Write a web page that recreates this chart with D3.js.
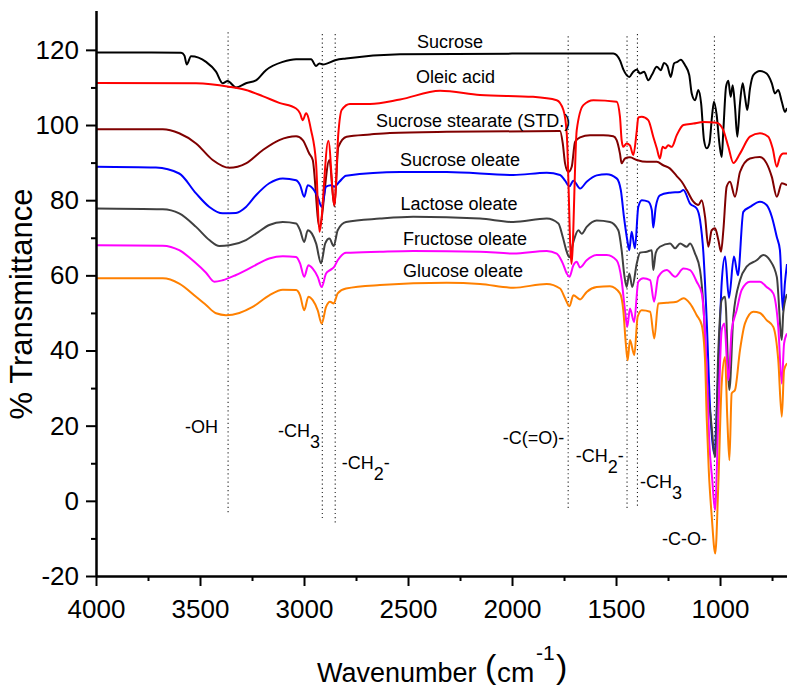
<!DOCTYPE html>
<html>
<head>
<meta charset="utf-8">
<script src="https://cdn.jsdelivr.net/npm/d3@7"></script>
<style>
  body { margin: 0; background: #fff; }
  svg { display: block; font-family: Arial, "Liberation Sans", sans-serif; }
</style>
</head>
<body>
<svg id="chart" width="787" height="688"></svg>
<script>
// spectra: [wavenumber cm-1, % transmittance]
const sucrose = [[4000,119.3],[3800,119.3],[3591,119.2],[3575,118.5],[3564,116.1],[3543,118.3],[3471,116.8],[3423,114.2],[3391,111.1],[3367,111.7],[3327,110.0],[3279,111.1],[3231,111.9],[3183,114.6],[3102,116.8],[3038,117.5],[2966,117.5],[2942,115.7],[2926,116.4],[2910,116.1],[2846,117.3],[2798,117.7],[2538,118.8],[2000,119.0],[1513,119.0],[1481,117.2],[1465,114.8],[1436,112.8],[1417,114.2],[1400,114.8],[1385,113.7],[1365,114.2],[1345,111.9],[1328,113.3],[1304,115.5],[1285,114.6],[1269,116.5],[1253,115.7],[1237,112.8],[1221,116.4],[1205,116.8],[1189,117.4],[1168,115.9],[1148,113.3],[1136,108.4],[1120,106.6],[1104,109.3],[1091,105.8],[1077,96.0],[1064,93.8],[1051,95.1],[1038,102.6],[1029,106.2],[1016,102.6],[1003,95.1],[992,91.5],[984,98.6],[971,110.2],[960,111.8],[949,107.5],[939,110.6],[928,104.8],[917,96.9],[904,105.8],[891,111.1],[880,107.5],[869,104.0],[856,109.7],[840,113.3],[808,114.4],[776,113.7],[751,111.1],[736,108.4],[720,109.3],[703,106.2],[688,103.5],[678,104.5]];

const oleicAcid = [[4000,111.2],[3519,111.1],[3361,110.2],[3279,109.3],[3199,107.7],[3119,105.9],[3038,104.4],[3019,103.1],[3006,101.3],[2990,103.1],[2966,98.6],[2942,89.8],[2926,71.6],[2883,95.8],[2854,78.7],[2835,97.7],[2819,104.0],[2779,105.6],[2683,105.6],[2538,106.8],[2346,109.1],[2154,108.0],[1899,107.5],[1785,106.6],[1753,104.0],[1737,97.8],[1714,63.0],[1689,98.6],[1657,105.3],[1609,106.6],[1497,106.2],[1481,102.2],[1473,96.0],[1465,94.2],[1449,95.1],[1433,94.6],[1417,92.0],[1400,98.6],[1393,102.0],[1376,102.2],[1345,101.3],[1321,96.9],[1304,93.8],[1289,91.1],[1276,94.2],[1264,93.8],[1249,94.6],[1232,94.2],[1208,97.3],[1176,100.0],[1128,100.4],[1080,100.8],[1016,100.6],[984,98.6],[960,94.2],[936,89.9],[904,92.4],[856,96.9],[808,97.8],[768,96.9],[747,93.8],[727,88.9],[712,91.5],[696,92.4],[678,92.4]];

const sucroseStearate = [[4000,98.9],[3679,98.9],[3600,97.8],[3519,95.1],[3439,90.7],[3359,88.6],[3279,89.8],[3199,93.3],[3119,96.0],[3038,97.0],[3006,96.0],[2975,92.4],[2958,90.7],[2926,72.9],[2878,90.7],[2854,78.4],[2835,94.2],[2795,96.9],[2683,97.5],[2587,97.9],[2314,98.2],[1769,98.4],[1756,95.1],[1745,89.8],[1729,87.5],[1713,88.9],[1697,95.5],[1673,96.7],[1625,97.3],[1561,97.3],[1513,97.0],[1497,96.0],[1481,92.4],[1473,89.8],[1457,91.1],[1433,91.4],[1400,90.7],[1352,90.2],[1304,90.2],[1273,89.3],[1240,88.4],[1208,86.4],[1184,84.9],[1160,82.7],[1128,79.6],[1104,78.7],[1088,80.0],[1072,75.6],[1056,67.6],[1040,72.0],[1024,72.5],[1008,69.4],[995,66.3],[984,72.0],[968,83.6],[952,84.9],[928,80.9],[904,87.5],[856,91.1],[808,91.5],[776,89.8],[751,86.2],[727,80.9],[703,84.5],[678,84.0]];

const sucroseOleate = [[4000,88.9],[3712,88.7],[3600,87.1],[3519,81.8],[3455,78.2],[3391,76.5],[3327,76.6],[3279,78.2],[3231,81.3],[3167,84.5],[3102,85.8],[3038,85.3],[3019,84.0],[2999,80.9],[2982,84.0],[2966,83.6],[2934,80.9],[2915,78.2],[2894,83.6],[2870,84.0],[2854,83.6],[2830,84.9],[2798,86.5],[2538,87.5],[2314,87.5],[1994,86.7],[1833,87.3],[1769,86.7],[1745,85.2],[1724,83.7],[1705,85.2],[1673,83.1],[1641,84.9],[1593,86.6],[1545,86.9],[1497,85.8],[1477,82.7],[1462,75.6],[1446,69.4],[1436,66.7],[1425,71.6],[1409,67.2],[1393,78.2],[1376,80.0],[1345,79.6],[1328,77.4],[1321,72.7],[1309,78.2],[1289,81.3],[1240,82.0],[1192,82.2],[1176,82.7],[1144,79.1],[1112,77.8],[1096,74.7],[1080,66.0],[1064,48.0],[1048,25.0],[1029,12.6],[1008,35.0],[992,58.0],[976,65.0],[957,54.0],[933,65.0],[914,60.0],[888,76.9],[856,78.2],[808,79.6],[776,78.7],[751,75.6],[727,70.2],[712,66.7],[698,50.7],[688,58.0],[678,63.0]];

const lactoseOleate = [[4000,77.8],[3679,77.6],[3600,76.5],[3519,72.9],[3455,69.4],[3407,67.8],[3359,68.0],[3279,69.4],[3231,71.1],[3167,73.4],[3102,74.2],[3038,73.8],[3019,72.0],[2999,68.9],[2982,72.0],[2962,71.1],[2942,68.5],[2918,63.2],[2898,68.5],[2878,69.8],[2857,67.8],[2838,72.0],[2798,74.2],[2635,75.1],[2475,75.6],[2154,75.1],[1994,74.2],[1833,75.1],[1777,73.8],[1756,70.2],[1737,66.3],[1724,64.8],[1705,68.9],[1681,72.0],[1665,71.1],[1641,72.9],[1593,74.6],[1529,74.2],[1489,72.0],[1473,66.7],[1460,60.0],[1449,56.9],[1436,60.5],[1422,56.9],[1400,63.2],[1385,66.0],[1352,66.3],[1328,66.7],[1321,61.4],[1309,66.0],[1289,67.6],[1240,68.5],[1216,67.2],[1192,68.5],[1160,67.6],[1144,68.5],[1120,65.8],[1096,61.4],[1080,52.0],[1060,30.0],[1045,22.4],[1023,11.7],[1008,40.1],[992,53.4],[976,54.3],[955,29.5],[936,49.0],[904,58.7],[872,62.3],[824,64.0],[792,65.4],[760,64.0],[727,59.6],[703,42.8],[696,50.0],[678,55.0]];

const fructoseOleate = [[4000,68.0],[3679,67.9],[3600,66.7],[3519,63.2],[3471,60.7],[3431,58.3],[3391,58.7],[3327,60.1],[3247,62.3],[3167,64.5],[3102,65.1],[3038,64.9],[3019,63.2],[2999,59.6],[2979,62.7],[2958,61.8],[2934,59.6],[2915,56.9],[2894,60.5],[2875,61.4],[2857,62.1],[2838,64.0],[2798,66.0],[2635,66.3],[2475,66.5],[2154,66.3],[1994,65.8],[1833,66.5],[1785,65.8],[1756,63.2],[1737,60.5],[1724,59.6],[1705,62.7],[1689,63.6],[1673,62.1],[1641,64.0],[1593,65.4],[1545,65.4],[1497,64.0],[1473,58.7],[1457,50.7],[1446,46.3],[1433,51.2],[1413,47.6],[1393,58.3],[1369,59.2],[1336,58.7],[1317,53.0],[1297,59.6],[1256,61.4],[1216,59.6],[1176,61.8],[1144,61.4],[1112,58.3],[1088,55.2],[1072,44.5],[1064,35.0],[1051,15.0],[1038,6.0],[1024,-2.5],[1008,22.4],[992,45.4],[979,47.2],[960,32.1],[944,45.4],[920,50.7],[896,56.1],[856,58.3],[808,58.3],[776,56.9],[744,55.2],[720,46.3],[703,31.2],[692,41.9],[678,44.5]];

const glucoseOleate = [[4000,59.2],[3679,59.2],[3600,57.8],[3519,54.3],[3471,52.1],[3423,49.9],[3375,49.4],[3311,50.0],[3247,51.6],[3167,54.7],[3102,56.2],[3038,56.1],[3019,54.7],[2999,50.7],[2979,54.3],[2958,53.4],[2934,50.7],[2915,47.2],[2894,51.6],[2875,53.0],[2857,52.5],[2838,55.2],[2798,56.5],[2635,57.4],[2314,58.0],[2154,57.7],[1994,56.7],[1833,57.7],[1769,56.5],[1745,53.9],[1724,51.8],[1705,54.7],[1673,53.6],[1641,55.6],[1593,56.9],[1529,57.1],[1481,55.2],[1465,50.7],[1453,41.9],[1444,37.4],[1433,42.8],[1412,38.8],[1396,49.0],[1376,50.7],[1336,50.3],[1316,43.2],[1297,52.5],[1256,52.7],[1208,53.0],[1176,53.9],[1144,52.5],[1112,49.4],[1088,46.8],[1072,37.4],[1064,22.0],[1054,8.0],[1040,-4.0],[1023,-14.0],[1008,4.6],[992,31.2],[976,38.3],[965,22.0],[955,10.8],[944,28.6],[928,29.5],[904,40.1],[880,47.2],[840,50.3],[808,50.0],[776,48.1],[744,46.3],[720,37.4],[703,22.4],[692,34.8],[678,36.6]];

const seriesNames = ["Sucrose", "Oleic acid", "Sucrose stearate (STD.)", "Sucrose oleate",
                     "Lactose oleate", "Fructose oleate", "Glucose oleate"];
const seriesData = [sucrose, oleicAcid, sucroseStearate, sucroseOleate,
                    lactoseOleate, fructoseOleate, glucoseOleate];
// where each name sits: [wavenumber, %T] of the text centre / baseline
const namePositions = [[2298,120.5],[2272,111.1],[2187,99.4],[2250,89.1],[2255,77.3],[2226,68.0],[2236,59.5]];

// band markers: wavenumber, top and bottom of the dotted line (%T)
const bandLines = [[3365,124.7,-3.8],[2912,124.2,-4.6],[2850,124.2,-5.9],[1730,123.6,-2.5],
                   [1447,123.6,-2.5],[1397,124.2,-2.0],[1027,123.6,-5.1]];
// band labels: text pieces, 1 = subscript
const bandLabels = [
  { at: [3572, 18.0], parts: [["-OH", 0]] },
  { at: [3125, 16.9], parts: [["-CH", 0], ["3", 1]] },
  { at: [2819, 8.4],  parts: [["-CH", 0], ["2", 1], ["-", 0]] },
  { at: [2045, 15.1], parts: [["-C(=O)-", 0]] },
  { at: [1694, 10.3], parts: [["-CH", 0], ["2", 1], ["-", 0]] },
  { at: [1385, 3.4],  parts: [["-CH", 0], ["3", 1]] },
  { at: [1279, -11.8], parts: [["-C-O-", 0]] }
];

const xMajor = [4000, 3500, 3000, 2500, 2000, 1500, 1000];
const xMinor = [3750, 3250, 2750, 2250, 1750, 1250, 750];
const yMajor = [-20, 0, 20, 40, 60, 80, 100, 120];
const yMinor = [-10, 10, 30, 50, 70, 90, 110];

const colors = ["#000000", "#ff0000", "#800000", "#0000ff", "#404040", "#ff00ff", "#ff8000"];
const drawOrder = [0, 2, 3, 4, 5, 6, 1];

const svg = d3.select("#chart");
const plotLeft = 96, plotRight = 787, plotTop = 10.4, plotBottom = 576;

const x = d3.scaleLinear().domain([4000, 678]).range([plotLeft, plotRight]);
const y = d3.scaleLinear().domain([-20, 130.5]).range([plotBottom, plotTop]);

svg.append("defs").append("clipPath").attr("id", "plot")
  .append("rect").attr("x", plotLeft).attr("y", 0)
  .attr("width", plotRight - plotLeft).attr("height", plotBottom);

// dotted band markers
svg.append("g").selectAll("line").data(bandLines).join("line")
  .attr("x1", d => x(d[0])).attr("x2", d => x(d[0]))
  .attr("y1", d => y(d[1])).attr("y2", d => y(d[2]))
  .attr("stroke", "#222").attr("stroke-width", 1.1).attr("stroke-dasharray", "1.2,3");

// spectra
const line = d3.line().x(d => x(d[0])).y(d => y(d[1])).curve(d3.curveMonotoneX);
svg.append("g").attr("clip-path", "url(#plot)")
  .selectAll("path").data(drawOrder).join("path")
  .attr("d", i => line(seriesData[i]))
  .attr("fill", "none")
  .attr("stroke", i => colors[i])
  .attr("stroke-width", 2)
  .attr("stroke-linejoin", "round");

// series names
svg.append("g").attr("font-size", 18).attr("text-anchor", "middle")
  .selectAll("text").data(seriesNames).join("text")
  .attr("x", (d, i) => x(namePositions[i][0]))
  .attr("y", (d, i) => y(namePositions[i][1]))
  .text(d => d);

// band labels with subscripts
const lg = svg.append("g").attr("font-size", 18);
bandLabels.forEach(b => {
  const t = lg.append("text").attr("x", x(b.at[0])).attr("y", y(b.at[1]));
  let shift = 0;
  b.parts.forEach(([s, sub]) => {
    const target = sub ? 11 : 0;
    t.append("tspan").attr("dy", target - shift).text(s);
    shift = target;
  });
});

// axes
function styleAxis(g) {
  g.selectAll("path.domain").attr("stroke", "#000").attr("stroke-width", 2);
  g.selectAll(".tick line").attr("stroke", "#000").attr("stroke-width", 2);
  g.selectAll(".tick text").attr("fill", "#000").attr("font-size", 26);
}
const plain = d => String(d);

svg.append("g").attr("transform", `translate(0,${plotBottom})`)
  .call(d3.axisBottom(x).tickValues(xMinor).tickSize(5).tickSizeOuter(0).tickFormat(""))
  .call(styleAxis);
svg.append("g").attr("transform", `translate(0,${plotBottom})`)
  .call(d3.axisBottom(x).tickValues(xMajor).tickSize(10).tickSizeOuter(0).tickPadding(13.5).tickFormat(plain))
  .call(styleAxis)
  .attr("font-family", null);

svg.append("g").attr("transform", `translate(${plotLeft},0)`)
  .call(d3.axisLeft(y).tickValues(yMinor).tickSize(5).tickSizeOuter(0).tickFormat(""))
  .call(styleAxis);
svg.append("g").attr("transform", `translate(${plotLeft},0)`)
  .call(d3.axisLeft(y).tickValues(yMajor).tickSize(10).tickSizeOuter(0).tickPadding(7).tickFormat(plain))
  .call(styleAxis)
  .attr("font-family", null);

// axis titles
svg.append("text")
  .attr("transform", "translate(32,304) rotate(-90)")
  .attr("text-anchor", "middle").attr("font-size", 31)
  .text("% Transmittance");

svg.append("text").attr("x", 317).attr("y", 682).attr("font-size", 27).text("Wavenumber");
const xt = svg.append("text").attr("y", 682).attr("font-size", 28);
xt.append("tspan").attr("x", 485).attr("dy", -4).attr("font-size", 34).text("(");
xt.append("tspan").attr("x", 497).attr("dy", 4).text("cm");
xt.append("tspan").attr("x", 536).attr("dy", -22).attr("font-size", 21).text("-1");
xt.append("tspan").attr("x", 556).attr("dy", 18).attr("font-size", 34).text(")");
</script>
</body>
</html>
